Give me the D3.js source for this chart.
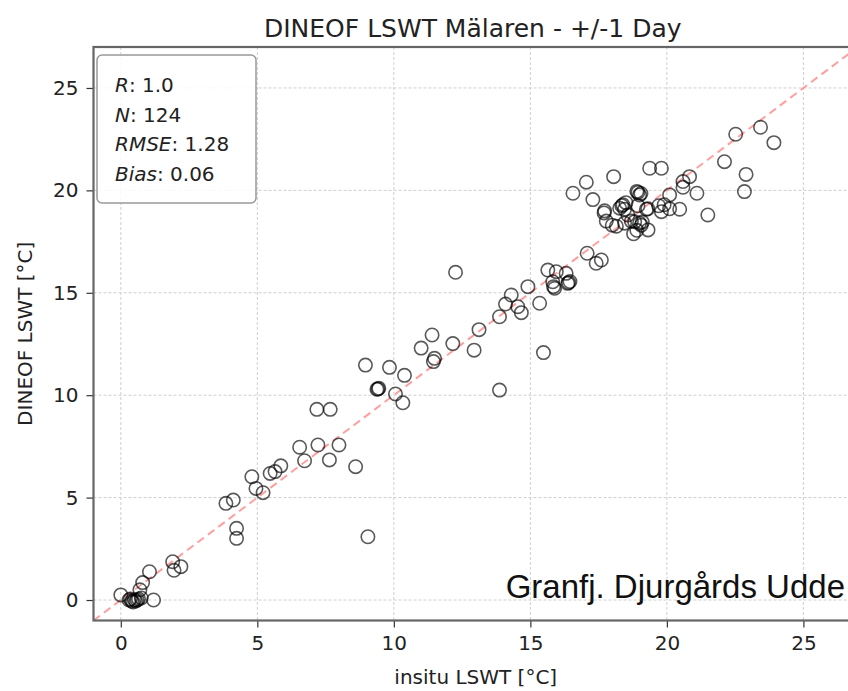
<!DOCTYPE html>
<html>
<head>
<meta charset="utf-8">
<script src="https://cdn.jsdelivr.net/npm/d3@7"></script>
<style>
  html, body { margin: 0; padding: 0; background: #fff; }
  svg { display: block; font-family: "DejaVu Sans", sans-serif; }
</style>
</head>
<body>
<svg id="chart" width="848" height="691"></svg>
<script>
// In-situ lake surface water temperature (°C) vs. DINEOF reconstruction (°C)
const insitu = [
  0.0, 0.3, 0.45, 0.6, 0.75, 0.7, 0.8, 1.05, 1.2, 1.9, 2.2, 1.95,
  0.35, 0.5, 0.55, 0.65, 0.4,
  3.85, 4.12, 4.24, 4.24, 4.8, 4.95, 5.21, 5.47, 5.65, 5.86,
  6.55, 6.73, 7.22, 7.64, 7.99, 8.6, 7.18, 7.67,
  8.96, 9.05, 9.38, 9.45, 9.42, 9.84, 10.06, 10.33, 10.39,
  11.0, 11.4, 11.45, 11.49, 12.16, 12.26, 12.94, 13.12,
  13.87, 13.87, 14.09, 14.3, 14.54, 14.67, 14.91, 15.34, 15.48,
  15.64, 15.95, 15.82, 15.89, 15.85, 16.31, 16.37, 16.45, 16.4,
  17.08, 17.41, 17.6,
  16.56, 17.05, 18.05, 19.37, 19.8, 17.29, 17.72, 17.78, 18.15,
  18.39, 18.45, 18.45, 18.78, 18.94, 19.0, 18.94, 19.0, 19.31,
  19.25, 19.7, 19.8, 20.1, 20.1, 20.47, 20.59, 20.83, 20.59,
  21.1, 21.5, 22.11, 22.9, 22.84, 22.52, 23.43, 23.92,
  18.27, 18.57, 19.06, 18.82,
  18.5, 18.9, 19.05, 18.35, 19.1, 18.7, 19.9, 18.0, 17.7, 19.3, 18.9
];
const dineof = [
  0.25, 0.0, -0.1, 0.0, 0.1, 0.5, 0.85, 1.38, 0.0, 1.87, 1.63, 1.45,
  0.05, 0.0, -0.05, 0.05, -0.05,
  4.72, 4.88, 3.5, 3.01, 6.02, 5.45, 5.24, 6.18, 6.27, 6.55,
  7.46, 6.8, 7.57, 6.84, 7.57, 6.51, 9.31, 9.31,
  11.47, 3.09, 10.29, 10.34, 10.3, 11.36, 10.06, 9.63, 10.97,
  12.3, 12.94, 11.64, 11.8, 12.52, 16.0, 12.2, 13.2,
  10.25, 13.83, 14.45, 14.89, 14.32, 14.03, 15.3, 14.49, 12.08,
  16.11, 16.03, 15.54, 15.22, 15.3, 15.95, 15.46, 15.55, 15.5,
  16.93, 16.44, 16.6,
  19.86, 20.4, 20.67, 21.08, 21.08, 19.55, 19.0, 18.5, 18.25,
  19.3, 19.08, 18.4, 17.88, 19.9, 19.78, 19.25, 18.4, 18.07,
  19.08, 19.25, 18.96, 19.78, 19.1, 19.08, 20.43, 20.67, 20.15,
  19.86, 18.8, 21.4, 20.78, 19.94, 22.74, 23.08, 22.33,
  19.13, 18.8, 18.3, 18.47,
  19.4, 19.95, 19.85, 19.25, 18.45, 18.5, 19.3, 18.3, 18.9, 19.1, 18.05
];

const axisTicks = [0, 5, 10, 15, 20, 25];
const statLabels = ["R", "N", "RMSE", "Bias"];
const statValues = ["1.0", "124", "1.28", "0.06"];
const titleText = "DINEOF LSWT Mälaren - +/-1 Day";
const xLabel = "insitu LSWT [°C]";
const yLabel = "DINEOF LSWT [°C]";
const stationName = "Granfj. Djurgårds Udde";

const svg = d3.select("#chart");
const plot = { left: 93.5, right: 858, top: 47, bottom: 620.5 };

const x = d3.scaleLinear().domain([-1, 27]).range([plot.left, plot.right]);
const y = d3.scaleLinear().domain([-1, 27]).range([plot.bottom, plot.top]);

const clipId = "plot-clip";
svg.append("defs").append("clipPath").attr("id", clipId)
  .append("rect")
  .attr("x", plot.left).attr("y", plot.top)
  .attr("width", plot.right - plot.left).attr("height", plot.bottom - plot.top);

// Grid lines
const grid = svg.append("g").attr("clip-path", `url(#${clipId})`);
grid.selectAll("line.gx").data(axisTicks).join("line")
  .attr("x1", d => x(d)).attr("x2", d => x(d))
  .attr("y1", plot.top).attr("y2", plot.bottom)
  .attr("stroke", "#cfcfcf").attr("stroke-width", 1).attr("stroke-dasharray", "3,2");
grid.selectAll("line.gy").data(axisTicks).join("line")
  .attr("x1", plot.left).attr("x2", plot.right)
  .attr("y1", d => y(d)).attr("y2", d => y(d))
  .attr("stroke", "#cfcfcf").attr("stroke-width", 1).attr("stroke-dasharray", "3,2");

// 1:1 reference line
const content = svg.append("g").attr("clip-path", `url(#${clipId})`);
content.append("line")
  .attr("x1", x(-1)).attr("y1", y(-1))
  .attr("x2", x(27)).attr("y2", y(27))
  .attr("stroke", "#ff7f7f").attr("stroke-opacity", 0.75)
  .attr("stroke-width", 2).attr("stroke-dasharray", "8,5");

// Scatter points (hollow markers)
const pts = insitu.map((v, i) => [v, dineof[i]]);
content.selectAll("circle.pt").data(pts).join("circle")
  .attr("class", "pt")
  .attr("cx", d => x(d[0])).attr("cy", d => y(d[1]))
  .attr("r", 6.7)
  .attr("fill", "none")
  .attr("stroke", "#000").attr("stroke-opacity", 0.65)
  .attr("stroke-width", 1.6);

// Axes
const xAxis = d3.axisBottom(x).tickValues(axisTicks).tickSize(7).tickPadding(8);
const yAxis = d3.axisLeft(y).tickValues(axisTicks).tickSize(7).tickPadding(8);

const gx = svg.append("g").attr("transform", `translate(0,${plot.bottom})`).call(xAxis);
const gy = svg.append("g").attr("transform", `translate(${plot.left},0)`).call(yAxis);
[gx, gy].forEach(g => {
  g.select(".domain").remove();
  g.selectAll(".tick line").attr("stroke", "#333").attr("stroke-width", 1.2);
  g.selectAll(".tick text")
    .attr("font-family", "DejaVu Sans, sans-serif")
    .attr("font-size", 20).attr("fill", "#222");
});

// Spines
svg.append("rect")
  .attr("x", plot.left).attr("y", plot.top)
  .attr("width", plot.right - plot.left).attr("height", plot.bottom - plot.top)
  .attr("fill", "none").attr("stroke", "#666").attr("stroke-width", 2.2);

// Title and axis labels
svg.append("text")
  .attr("x", (plot.left + plot.right) / 2 - 3).attr("y", 37)
  .attr("text-anchor", "middle").attr("font-size", 25).attr("fill", "#222")
  .text(titleText);

svg.append("text")
  .attr("x", (plot.left + plot.right) / 2).attr("y", 684)
  .attr("text-anchor", "middle").attr("font-size", 20).attr("fill", "#222")
  .text(xLabel);

svg.append("text")
  .attr("transform", `translate(32,${(plot.top + plot.bottom) / 2}) rotate(-90)`)
  .attr("text-anchor", "middle").attr("font-size", 20).attr("fill", "#222")
  .text(yLabel);

// Statistics box
const box = svg.append("g");
box.append("rect")
  .attr("x", 97).attr("y", 55).attr("width", 159).attr("height", 148)
  .attr("rx", 5).attr("ry", 5)
  .attr("fill", "#fff").attr("fill-opacity", 0.85)
  .attr("stroke", "#999").attr("stroke-width", 1.5);

const statText = box.selectAll("text").data(statLabels).join("text")
  .attr("x", 115).attr("y", (d, i) => 92 + i * 29.5)
  .attr("font-size", 20).attr("fill", "#222");
statText.append("tspan").attr("font-style", "italic").text(d => d);
statText.append("tspan").text((d, i) => ": " + statValues[i]);

// Station name
svg.append("text")
  .attr("x", 845).attr("y", 598)
  .attr("text-anchor", "end")
  .attr("font-family", "Liberation Sans, Arial, sans-serif")
  .attr("font-size", 33).attr("fill", "#111")
  .text(stationName);
</script>
</body>
</html>
